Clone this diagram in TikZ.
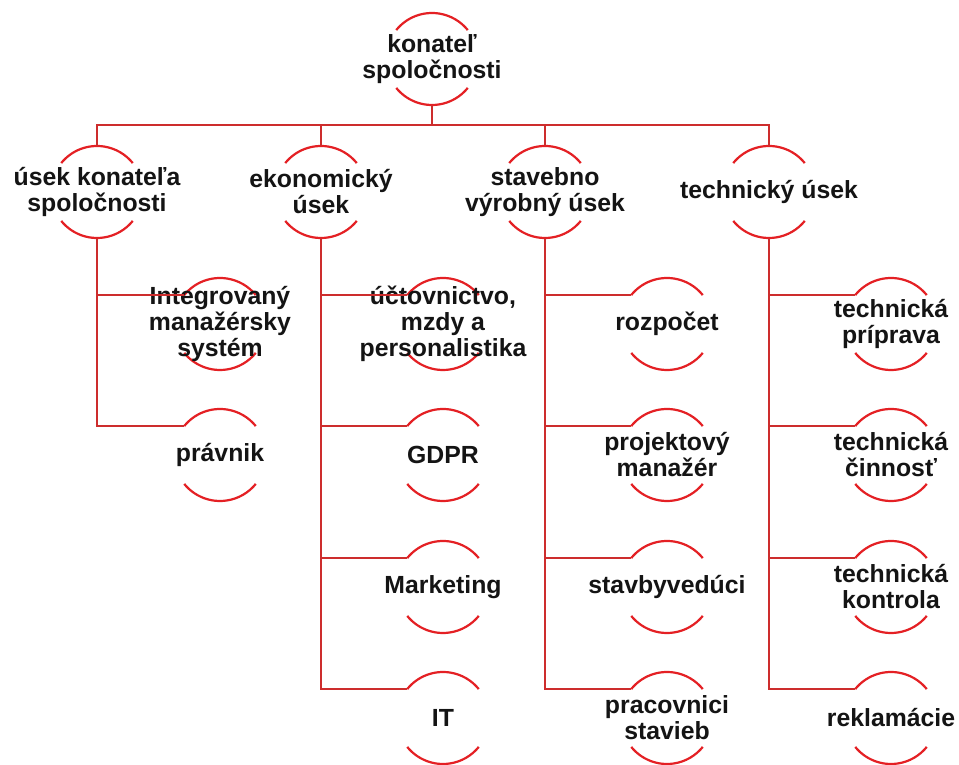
\documentclass[tikz,border=0pt]{standalone}
\usepackage{fontspec}
\setmainfont{Liberation Sans}
\usetikzlibrary{calc}
\definecolor{linered}{RGB}{205,45,45}
\definecolor{arcred}{RGB}{228,32,36}
\definecolor{ink}{RGB}{20,20,20}
\tikzset{
  ring/.style={circle, minimum size=92pt, inner sep=0pt, outer sep=0pt},
  lbl/.style={font=\fontsize{24.8}{26}\selectfont\bfseries, align=center, inner sep=0pt, text=ink},
  conn/.style={draw=linered, line width=2pt},
  arcline/.style={draw=arcred, line width=2.2pt},
}
\newcommand\orgnode[4]{%
  \node[ring] (#1) at (#2,#3) {};
  \draw[arcline] (#1.141) arc[start angle=141,end angle=39,radius=46pt];
  \draw[arcline] (#1.219) arc[start angle=219,end angle=321,radius=46pt];
  \node[lbl] (#1-t) at (#1.center) {#4};
}
\begin{document}
\begin{tikzpicture}[x=1pt,y=1pt]
\useasboundingbox (0,0) rectangle (959,765);
\fill[white] (0,0) rectangle (959,765);
% top
\orgnode{top}{432}{706}{konateľ\\spoločnosti}
% level 1
\orgnode{a}{97}{573}{úsek konateľa\\spoločnosti}
\orgnode{b}{321}{573}{ekonomický\\úsek}
\orgnode{c}{545}{573}{stavebno\\výrobný úsek}
\orgnode{d}{769}{573}{technický úsek}
% column a
\orgnode{a1}{220}{441}{Integrovaný\\manažérsky\\systém}
\orgnode{a2}{220}{310}{právnik}
% column b
\orgnode{b1}{443}{441}{účtovnictvo,\\mzdy a\\personalistika}
\orgnode{b2}{443}{310}{GDPR}
\orgnode{b3}{443}{178}{Marketing}
\orgnode{b4}{443}{47}{IT}
% column c
\orgnode{c1}{667}{441}{rozpočet}
\orgnode{c2}{667}{310}{projektový\\manažér}
\orgnode{c3}{667}{178}{stavbyvedúci}
\orgnode{c4}{667}{47}{pracovnici\\stavieb}
% column d
\orgnode{d1}{891}{441}{technická\\príprava}
\orgnode{d2}{891}{310}{technická\\činnosť}
\orgnode{d3}{891}{178}{technická\\kontrola}
\orgnode{d4}{891}{47}{reklamácie}
% bus
\coordinate (bus) at (432,640);
\draw[conn] (top.south) -- (top.south |- bus);
\draw[conn] (a.north) -- (a.north |- bus) -- (d.north |- bus) -- (d.north);
\draw[conn] (b.north) -- (b.north |- bus);
\draw[conn] (c.north) -- (c.north |- bus);
% trunks and branches
\foreach \p/\k in {a/a1,a/a2,b/b1,b/b2,b/b3,b/b4,c/c1,c/c2,c/c3,c/c4,d/d1,d/d2,d/d3,d/d4}
  \draw[conn] (\p.south) |- (\k.141);
\end{tikzpicture}
\end{document}
